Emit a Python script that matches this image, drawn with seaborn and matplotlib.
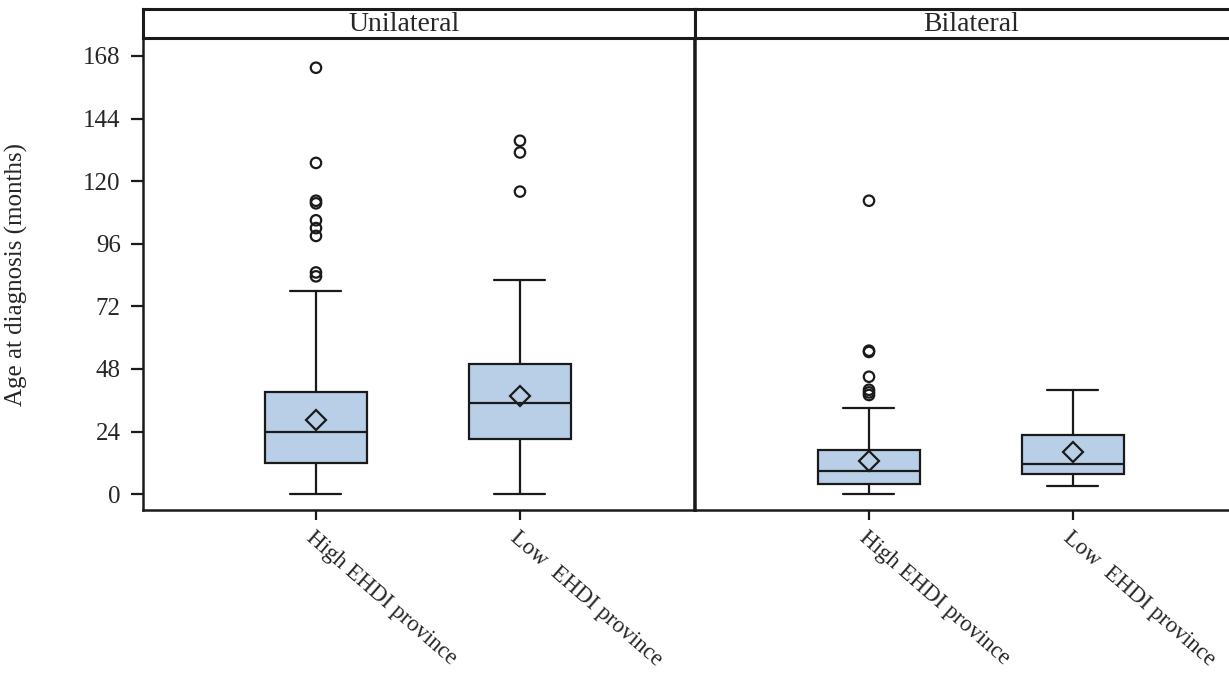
import numpy as np
import pandas as pd
import matplotlib
matplotlib.use("Agg")
import matplotlib.pyplot as plt
import seaborn as sns

# ---------------- data ----------------
panels = ["Unilateral", "Bilateral"]
categories = ["High EHDI province", "Low  EHDI province"]

# per panel: [High, Low]
whis_lo = {"Unilateral": [0, 0], "Bilateral": [0, 3]}
q1 = {"Unilateral": [11.8, 21], "Bilateral": [3.7, 7.6]}
median = {"Unilateral": [24, 35], "Bilateral": [8.8, 11.4]}
q3 = {"Unilateral": [39, 50], "Bilateral": [16.8, 22.6]}
whis_hi = {"Unilateral": [78, 82], "Bilateral": [33, 40]}
mean = {"Unilateral": [28.6, 37.7], "Bilateral": [12.7, 16.1]}

outliers_uni_high = [83.5, 85, 99, 102, 105, 111.5, 112.5, 127, 163.5]
outliers_uni_low = [116, 131, 135.5]
outliers_bil_high = [38, 39, 40, 45, 54.5, 55, 112.5]
outliers_bil_low = []
outliers = {
    "Unilateral": [outliers_uni_high, outliers_uni_low],
    "Bilateral": [outliers_bil_high, outliers_bil_low],
}

y_ticks = [0, 24, 48, 72, 96, 120, 144, 168]
y_label = "Age at diagnosis (months)"

# ---------------- style ----------------
sns.set_theme(style="white")
plt.rcParams["font.family"] = ["Liberation Serif", "DejaVu Serif"]

BOX_COLOR = "#B9CFE7"
LINE_COLOR = "#1a1a1a"
W, H = 1229, 680
fig = plt.figure(figsize=(W / 100, H / 100), dpi=100)
fig.patch.set_facecolor("white")


def fx(px):
    return px / W


def fy(py):
    return 1 - py / H


plot_top, plot_bot = 38, 510
strip_top = 9
axes_specs = [(143, 695), (695, 1229)]
xlims = [(-0.848, 1.858), (-0.853, 1.765)]

for i, panel in enumerate(panels):
    x0, x1 = axes_specs[i]
    ax = fig.add_axes([fx(x0), fy(plot_bot), fx(x1 - x0), fy(plot_top) - fy(plot_bot)])
    ax.set_facecolor("white")

    stats = []
    for j, cat in enumerate(categories):
        stats.append(dict(
            label=cat, whislo=whis_lo[panel][j], q1=q1[panel][j], med=median[panel][j],
            q3=q3[panel][j], whishi=whis_hi[panel][j], mean=mean[panel][j], fliers=[],
        ))
    ax.bxp(
        stats, positions=[0, 1], widths=0.5, capwidths=0.25, patch_artist=True,
        showmeans=True, showfliers=False,
        boxprops=dict(facecolor=BOX_COLOR, edgecolor=LINE_COLOR, linewidth=1.6),
        medianprops=dict(color=LINE_COLOR, linewidth=1.6),
        whiskerprops=dict(color=LINE_COLOR, linewidth=1.6),
        capprops=dict(color=LINE_COLOR, linewidth=1.6),
        meanprops=dict(marker="D", markerfacecolor="none", markeredgecolor=LINE_COLOR,
                       markersize=10, markeredgewidth=1.6),
    )

    # outliers via seaborn strip plot
    rows = []
    for j, cat in enumerate(categories):
        for v in outliers[panel][j]:
            rows.append({"cat": cat, "val": v})
    df = pd.DataFrame(rows, columns=["cat", "val"])
    if len(df):
        sns.stripplot(data=df, x="cat", y="val", order=categories, jitter=False,
                      marker="o", s=7.5, color=LINE_COLOR, linewidth=1.6,
                      edgecolor=LINE_COLOR, ax=ax, zorder=5)
        for coll in ax.collections:
            coll.set_facecolor("none")
            coll.set_edgecolor(LINE_COLOR)

    ax.set_xlim(*xlims[i])
    ax.set_ylim(-6.1, 174.9)
    ax.set_xticks([0, 1])
    ax.set_xticklabels(categories, rotation=-41, ha="left", va="top",
                       rotation_mode="anchor", fontsize=16.5)
    ax.set_xlabel("")
    ax.tick_params(axis="x", direction="out", length=7, width=1.6, color=LINE_COLOR,
                   pad=5, bottom=True)
    ax.set_yticks(y_ticks)
    if i == 0:
        ax.set_yticklabels([str(t) for t in y_ticks], fontsize=18)
        ax.tick_params(axis="y", direction="out", length=9, width=1.6, color=LINE_COLOR,
                       pad=7, left=True)
        ax.set_ylabel(y_label, fontsize=18)
        ax.yaxis.set_label_coords((28 - x0) / (x1 - x0), 0.5)
    else:
        ax.tick_params(axis="y", left=False, labelleft=False)
        ax.set_ylabel("")
    for name, sp in ax.spines.items():
        sp.set_color(LINE_COLOR)
        sp.set_linewidth(1.8)
        sp.set_visible(True)
    if i == 1:
        ax.spines["right"].set_visible(False)
    else:
        ax.spines["right"].set_linewidth(2.6)
    ax.grid(False)

    # header strip
    sax = fig.add_axes([fx(x0), fy(plot_top), fx(x1 - x0), fy(strip_top) - fy(plot_top)])
    sax.set_facecolor("white")
    sax.set_xticks([])
    sax.set_yticks([])
    for name, sp in sax.spines.items():
        sp.set_color(LINE_COLOR)
        sp.set_linewidth(2.2)
    if i == 1:
        sax.spines["right"].set_visible(False)
    # center title over the full panel width (right panel extends past the crop)
    cx = (404 - x0) / (x1 - x0) if i == 0 else (971 - x0) / (x1 - x0)
    sax.text(cx, 0.45, panel, ha="center", va="center", fontsize=20,
             transform=sax.transAxes)

fig.savefig("out.png", dpi=100, facecolor="white")
